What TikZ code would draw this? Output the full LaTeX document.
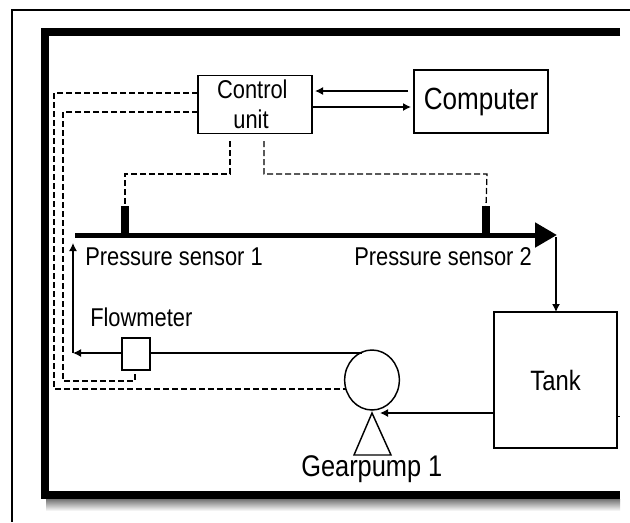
\documentclass[tikz,border=0pt]{standalone}
\usepackage{fontspec}
\setmainfont[FakeStretch=0.85]{Liberation Sans}
\usetikzlibrary{arrows.meta,positioning,shapes.geometric}

\begin{document}
\begin{tikzpicture}[
    x=0.75pt, y=-0.75pt,
    box/.style={draw, line width=1.1pt, fill=white, align=center, inner sep=0pt},
    label/.style={inner sep=0pt, font=\fontsize{19.3}{22.5}\selectfont},
    dashline/.style={dash pattern=on 4.5pt off 2.25pt, line width=0.95pt},
    arrow/.style={-{Latex[length=6pt, width=6pt]}, line width=1pt},
    frameline/.style={line width=6pt, line cap=butt, miter limit=10},
    sensor/.style={fill=black, inner sep=0pt, minimum width=6pt, minimum height=22pt}
  ]
    \useasboundingbox (0,0) rectangle (630,522);

    \shade[top color=black!55, bottom color=white] (46,499) rectangle (620,511);
    \draw[line width=1.3pt] (630,10) -- (12,10) -- (12,522);
    \draw[frameline] (620,32) -- (44.5,32) -- (44.5,495) -- (620,495);

    \node[box, minimum width=85.5pt, minimum height=43.5pt, font=\fontsize{19.3}{22.5}\selectfont] (control) at (255,104.5) {Control\kern4pt\\unit\kern6pt};
    \node[box, minimum width=100.5pt, minimum height=47.5pt, font=\fontsize{23}{24}\selectfont] (computer) at (481,101.5) {Computer};
    \node[box, minimum width=92pt, minimum height=102pt, font=\fontsize{21}{24}\selectfont] (tank) at (555.5,380) {Tank};
    \node[box, minimum width=21pt, minimum height=24pt] (flowmeter) at (136,354) {};
    \node[draw, ellipse, line width=1.1pt, fill=white, inner sep=0pt, minimum width=41pt, minimum height=45pt] (pump) at (372,380) {};
    \node[sensor, anchor=south] (sensorA) at (125,236) {};
    \node[sensor, anchor=south] (sensorB) at (486,236) {};

    \node[label, anchor=west] (labelA) at (85,257) {Pressure sensor 1};
    \node[label, anchor=west] (labelB) at (354,257) {Pressure sensor 2};
    \node[label, anchor=west] (labelF) at (90,317) {Flowmeter};
    \node[label, anchor=west, font=\fontsize{22.4}{24}\selectfont] (labelG) at (301,469) {Gearpump 1};

    \coordinate (pipeStart) at (75,235);
    \coordinate (pipeEnd) at (557,235);
    \coordinate (toControl) at (315,91);
    \coordinate (fromComputer) at (408,91);
    \coordinate (fromControl) at (312,107);
    \coordinate (toComputer) at (411,107);
    \coordinate (elbow) at (73,353);
    \coordinate (riserTop) at (73,243);
    \coordinate (pumpTop) at (362,353);
    \coordinate (tankOut) at (494,413);
    \coordinate (pumpIn) at (380,413);
    \coordinate (tankIn) at (556,312);
    \coordinate (pipeDrop) at (556,237);
    \coordinate (portA) at (198,93);
    \coordinate (portB) at (198,112);
    \coordinate (portC) at (230,141);
    \coordinate (portD) at (264,141);
    \coordinate (flowTap) at (135,369);
    \coordinate (pumpTap) at (346,389);

    \draw[line width=3.75pt, -{Triangle[length=16.5pt, width=18pt]}] (pipeStart) -- (pipeEnd);
    \draw[arrow] (fromComputer) -- (toControl);
    \draw[arrow] (fromControl) -- (toComputer);
    \draw[arrow] (flowmeter.west |- elbow) -- (elbow);
    \draw[arrow] (elbow) -- (riserTop);
    \draw[line width=1pt] (pumpTop) -- (flowmeter.east |- pumpTop);
    \draw[arrow] (tankOut) -- (pumpIn);
    \draw[arrow] (pipeDrop) -- (tankIn);

    \draw[dashline] (portA) -- (54,93) -- (54,389) -- (pumpTap);
    \draw[dashline] (portB) -- (63,112) -- (63,381) -- (135,381) -- (flowTap);
    \draw[dashline] (portC) -- (230,174) -- (125,174) -- (sensorA.north);
    \draw[dashline] (portD) -- (264,174) -- (487,174) -- (sensorB.north);

    \draw[line width=1.1pt] (372,413) -- (391,455) -- (354,455) -- cycle;
    \draw[line width=0.75pt] (tank.east |- 0,416) -- (620,416);
  \end{tikzpicture}
\end{document}
